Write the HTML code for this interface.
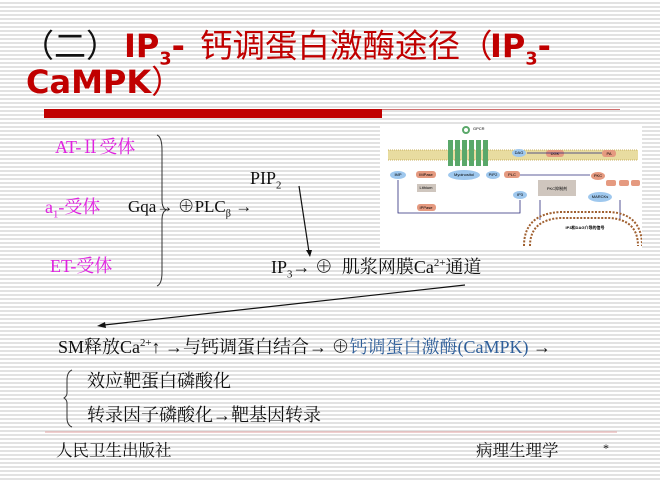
<!DOCTYPE html>
<html><head><meta charset="utf-8"><style>
body{margin:0}
#p{position:relative;width:660px;height:480px;overflow:hidden;background:repeating-linear-gradient(to bottom,#fff 0,#fff 2px,#e2e2e2 2px,#e2e2e2 4px);font-family:"Liberation Serif","Noto Serif CJK SC",serif;}
.t{position:absolute;white-space:nowrap;line-height:1}
.m{color:#e020e0;font-size:18px}
.k{color:#111;font-size:18px}
.h{position:absolute;white-space:nowrap;line-height:1;font-size:32px;color:#c00000}
.lb{font-family:"DejaVu Sans","Liberation Sans",sans-serif;font-weight:bold}
.cj{font-family:"Noto Sans CJK SC",sans-serif;font-weight:normal}
sub,sup{font-size:60%}
</style></head><body><div id="p">
<div class="h cj" style="left:22px;top:28px;color:#111">（二）</div>
<div class="h lb" style="left:124px;top:30px">IP<sub style="font-size:55%">3</sub>-</div>
<div class="h cj" style="left:200px;top:28px;font-size:32.5px">钙调蛋白激酶途径（</div>
<div class="h lb" style="left:490px;top:30px">IP<sub style="font-size:55%">3</sub>-</div>
<div class="h lb" style="left:26px;top:64px">CaMPK<span class="cj">）</span></div>
<div style="position:absolute;left:44px;top:109px;width:338px;height:9px;background:#c00000"></div>
<div style="position:absolute;left:382px;top:109px;width:238px;height:1px;background:#d07070"></div>

<svg style="position:absolute;left:380px;top:124px" width="262" height="124" viewBox="0 0 262 124">
<rect width="262" height="124" fill="#fff"/>
<rect x="8" y="26" width="250" height="10" fill="#e8dca0"/>
<line x1="8" y1="26" x2="258" y2="26" stroke="#c8b060" stroke-dasharray="1 1"/>
<line x1="8" y1="36" x2="258" y2="36" stroke="#c8b060" stroke-dasharray="1 1"/>
<g fill="#5aa86a"><rect x="68" y="16" width="5" height="26"/><rect x="75" y="16" width="5" height="26"/><rect x="82" y="16" width="5" height="26"/><rect x="89" y="16" width="5" height="26"/><rect x="96" y="16" width="5" height="26"/><rect x="103" y="16" width="5" height="26"/></g>
<circle cx="86" cy="6" r="3" fill="none" stroke="#5aa86a" stroke-width="2"/>
<text x="93" y="6" font-size="4" font-family="Liberation Sans">GPCR</text>
<g font-family="Liberation Sans" font-size="4" text-anchor="middle">
<ellipse cx="18" cy="51" rx="8" ry="4" fill="#9fc8ee"/><text x="18" y="52">IMP</text>
<rect x="36" y="47" width="20" height="7" rx="3" fill="#e59a80"/><text x="46" y="52">IMPase</text>
<ellipse cx="84" cy="51" rx="16" ry="5" fill="#9fc8ee"/><text x="84" y="52">Myoinositol</text>
<ellipse cx="113" cy="51" rx="7" ry="4" fill="#9fc8ee"/><text x="113" y="52">PIP2</text>
<rect x="124" y="47" width="16" height="7" rx="3" fill="#e59a80"/><text x="132" y="52">PLC</text>
<rect x="37" y="60" width="19" height="8" fill="#cfc6be"/><text x="46" y="65">Lithium</text>
<rect x="37" y="80" width="19" height="7" rx="3" fill="#e59a80"/><text x="46" y="85">IPPase</text>
<ellipse cx="140" cy="71" rx="7" ry="4" fill="#9fc8ee"/><text x="140" y="72">IP3</text>
<ellipse cx="139" cy="29" rx="7" ry="4" fill="#9fc8ee"/><text x="139" y="30">DAG</text>
<rect x="166" y="26" width="18" height="7" rx="3" fill="#e59a80"/><text x="175" y="31">DGK</text>
<rect x="222" y="26" width="14" height="7" rx="3" fill="#e59a80"/><text x="229" y="31">PA</text>
<rect x="158" y="56" width="38" height="16" fill="#cfc6be"/><text x="177" y="66">PKC抑制剂</text>
<ellipse cx="218" cy="52" rx="7" ry="4" fill="#e59a80"/><text x="218" y="53">PKC</text>
<ellipse cx="220" cy="73" rx="12" ry="5" fill="#9fc8ee"/><text x="220" y="74">MARCKs</text>
<rect x="226" y="56" width="10" height="6" rx="2" fill="#e59a80"/><rect x="239" y="56" width="10" height="6" rx="2" fill="#e59a80"/><rect x="251" y="56" width="9" height="6" rx="2" fill="#e59a80"/>
</g>
<g stroke="#2a2a7a" stroke-width="0.8" fill="none">
<line x1="140" y1="51" x2="210" y2="51"/><line x1="147" y1="29" x2="222" y2="29"/>
<path d="M18 56 V89 H140 V76"/><line x1="160" y1="76" x2="160" y2="96"/><line x1="240" y1="76" x2="240" y2="96"/>
</g>
<path d="M150 122 Q150 96 180 94 H230 Q258 96 258 122" fill="none" stroke="#a06030" stroke-width="2" stroke-dasharray="2 1.5"/>
<path d="M144 122 Q144 90 180 88 H230 Q262 90 262 122" fill="none" stroke="#a06030" stroke-width="2" stroke-dasharray="2 1.5"/>
<text x="205" y="105" font-size="4" text-anchor="middle" font-family="Liberation Sans" font-weight="bold">IP3和DAG介导的信号</text>
</svg>

<div class="t m" style="left:55px;top:138px">AT-Ⅱ受体</div>
<div class="t m" style="left:45px;top:198px">a<sub>1</sub>-受体</div>
<div class="t m" style="left:50px;top:257px">ET-受体</div>
<svg style="position:absolute;left:0;top:0" width="660" height="480">
<path d="M157 135 Q162 137 162 150 V200 Q162 208 166 210 Q162 212 162 220 V272 Q162 284 157 286" fill="none" stroke="#333" stroke-width="1"/>
<path d="M72 370 Q67 372 67 380 V393 Q67 396 64 398 Q67 400 67 403 V418 Q67 425 72 427" fill="none" stroke="#333" stroke-width="1"/>
<line x1="299" y1="186" x2="309" y2="252" stroke="#111" stroke-width="1.2"/>
<polygon points="306,250 312,250 310,257" fill="#111"/>
<line x1="465" y1="285" x2="104" y2="325" stroke="#111" stroke-width="1.2"/>
<polygon points="97,326 105,322 106,328" fill="#111"/>
<line x1="45" y1="432" x2="617" y2="432" stroke="#e0a0a0" stroke-width="1"/>
</svg>
<div class="t k" style="left:128px;top:198px;font-size:17px">Gqa→ ⊕PLC<sub>β</sub> →</div>
<div class="t k" style="left:250px;top:169px">PIP<sub>2</sub></div>
<div class="t k" style="left:271px;top:258px">IP<sub>3</sub>→ ⊕ &nbsp;肌浆网膜Ca<sup>2+</sup>通道</div>
<div class="t k" style="left:58px;top:338px">SM释放Ca<sup>2+</sup>↑ →与钙调蛋白结合→ ⊕<span style="color:#2f5f9a">钙调蛋白激酶(CaMPK)</span> →</div>
<div class="t k" style="left:87px;top:372px">效应靶蛋白磷酸化</div>
<div class="t k" style="left:87px;top:406px">转录因子磷酸化→靶基因转录</div>
<div class="t k" style="left:56px;top:443px;font-size:16.5px">人民卫生出版社</div>
<div class="t k" style="left:476px;top:443px;font-size:16.5px">病理生理学</div>
<div class="t k" style="left:603px;top:442px;font-size:12px">*</div>
</div></body></html>
